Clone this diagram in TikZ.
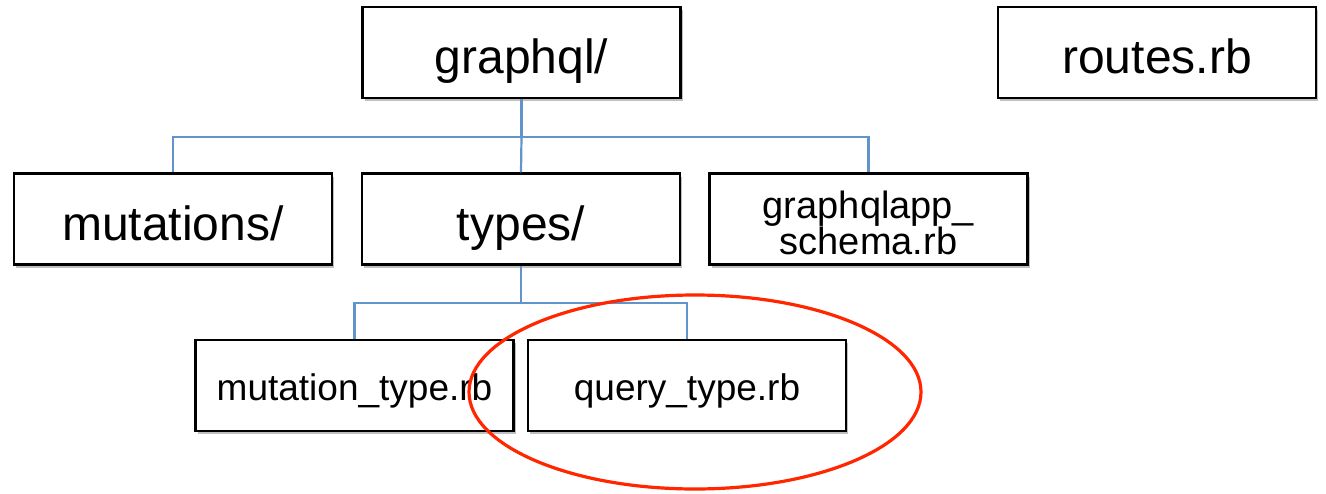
\documentclass[tikz,border=0pt]{standalone}
\usepackage{fontspec}
\setmainfont{Liberation Sans}
\usetikzlibrary{shadows}
\definecolor{connblue}{RGB}{98,148,204}
\definecolor{ringred}{RGB}{255,38,0}
\begin{document}
\begin{tikzpicture}[x=1pt,y=-1pt,
  filebox/.style={draw=black,line width=2.2pt,fill=white,minimum width=318pt,minimum height=91pt,inner sep=0pt,align=center,
    drop shadow={shadow xshift=2pt,shadow yshift=-3pt,opacity=0.25,fill=black}},
  bigtext/.style={font=\fontsize{48}{52}\selectfont,text height=42pt,text depth=0pt},
  midtext/.style={font=\fontsize{38}{36}\selectfont,text height=70pt,text depth=0pt},
  smalltext/.style={font=\fontsize{37}{40}\selectfont,text height=30pt,text depth=0pt},
  conn/.style={draw=connblue,line width=2.2pt},
  ring/.style={draw=ringred,line width=3.2pt}]
\useasboundingbox (0,0) rectangle (1326,493);
\node[filebox,bigtext] (graphql) at (521.5,52.5) {graphql/};
\node[filebox,bigtext] (routes) at (1157,52.5) {routes.rb};
\node[filebox,bigtext] (mutations) at (173,219) {mutations/};
\node[filebox,bigtext] (types) at (521,219) {types/};
\node[filebox,midtext] (schema) at (868.5,219) {graphqlapp\_\\schema.rb};
\node[filebox,smalltext] (mtype) at (354.5,385.5) {mutation\_type.rb};
\node[filebox,smalltext] (qtype) at (687,385.5) {query\_type.rb};
\coordinate (j1) at (521.5,137);
\coordinate (j2) at (521,303);
\draw[conn] (graphql.south) -- (j1);
\draw[conn] (j1) -- (types.north);
\draw[conn] (mutations.north) |- (j1) -| (schema.north);
\draw[conn] (types.south) -- (j2);
\draw[conn] (mtype.north) |- (j2) -| (qtype.north);
\draw[ring] (695,392) ellipse [x radius=226, y radius=97];
\end{tikzpicture}
\end{document}
